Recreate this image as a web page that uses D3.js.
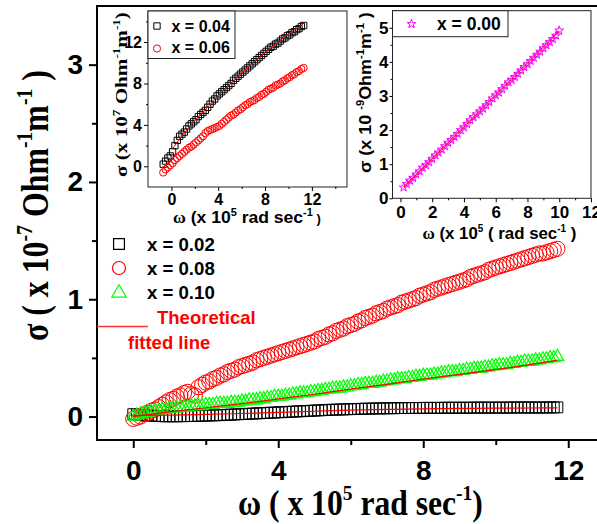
<!DOCTYPE html>
<html>
<head>
<meta charset="utf-8">
<script src="https://cdn.jsdelivr.net/npm/d3@7"></script>
<style>
  body { margin: 0; background: #fff; }
  svg { display: block; }
  text { white-space: pre; }
</style>
</head>
<body>
<svg id="chart" width="597" height="524"></svg>
<script>
// ---------------- main panel: σ(ω) for x = 0.02, 0.08, 0.10 ----------------
const mainOmega = [
  0.0, 0.1, 0.2, 0.3, 0.4, 0.5, 0.6, 0.7, 0.8, 0.9,
  1.0, 1.1, 1.2, 1.3, 1.4, 1.5, 1.6, 1.7, 1.8, 1.9,
  2.0, 2.1, 2.2, 2.3, 2.4, 2.5, 2.6, 2.7, 2.8, 2.9,
  3.0, 3.1, 3.2, 3.3, 3.4, 3.5, 3.6, 3.7, 3.8, 3.9,
  4.0, 4.1, 4.2, 4.3, 4.4, 4.5, 4.6, 4.7, 4.8, 4.9,
  5.0, 5.1, 5.2, 5.3, 5.4, 5.5, 5.6, 5.7, 5.8, 5.9,
  6.0, 6.1, 6.2, 6.3, 6.4, 6.5, 6.6, 6.7, 6.8, 6.9,
  7.0, 7.1, 7.2, 7.3, 7.4, 7.5, 7.6, 7.7, 7.8, 7.9,
  8.0, 8.1, 8.2, 8.3, 8.4, 8.5, 8.6, 8.7, 8.8, 8.9,
  9.0, 9.1, 9.2, 9.3, 9.4, 9.5, 9.6, 9.7, 9.8, 9.9,
  10.0, 10.1, 10.2, 10.3, 10.4, 10.5, 10.6, 10.7, 10.8, 10.9,
  11.0, 11.1, 11.2, 11.3, 11.4, 11.5, 11.6, 11.7
];
const sigmaX002 = [
  0.020, 0.018, 0.014, 0.012, 0.010, 0.008, 0.006, 0.004, 0.003, 0.002,
  0.002, 0.002, 0.002, 0.003, 0.003, 0.004, 0.004, 0.005, 0.006, 0.007,
  0.008, 0.009, 0.010, 0.011, 0.012, 0.014, 0.015, 0.016, 0.018, 0.019,
  0.021, 0.022, 0.024, 0.025, 0.027, 0.028, 0.030, 0.031, 0.033, 0.034,
  0.036, 0.037, 0.039, 0.040, 0.042, 0.043, 0.045, 0.046, 0.048, 0.049,
  0.051, 0.052, 0.054, 0.055, 0.057, 0.058, 0.059, 0.060, 0.061, 0.062,
  0.063, 0.064, 0.065, 0.066, 0.067, 0.067, 0.068, 0.069, 0.069, 0.070,
  0.070, 0.071, 0.071, 0.072, 0.072, 0.072, 0.073, 0.073, 0.073, 0.073,
  0.074, 0.074, 0.074, 0.074, 0.074, 0.074, 0.075, 0.075, 0.075, 0.075,
  0.075, 0.075, 0.075, 0.075, 0.076, 0.076, 0.076, 0.076, 0.076, 0.076,
  0.076, 0.076, 0.076, 0.076, 0.077, 0.077, 0.077, 0.077, 0.077, 0.077,
  0.077, 0.077, 0.077, 0.077, 0.077, 0.078, 0.078, 0.078
];
const sigmaX008 = [
  -0.02, -0.01, 0.00, 0.02, 0.03, 0.05, 0.06, 0.08, 0.10, 0.12,
  0.14, 0.15, 0.17, 0.18, 0.20, 0.21, 0.19, 0.18, 0.25, 0.27,
  0.29, 0.30, 0.32, 0.33, 0.35, 0.36, 0.38, 0.39, 0.40, 0.42,
  0.43, 0.44, 0.45, 0.46, 0.48, 0.49, 0.50, 0.51, 0.52, 0.53,
  0.54, 0.55, 0.56, 0.57, 0.58, 0.59, 0.60, 0.61, 0.62, 0.63,
  0.64, 0.66, 0.67, 0.68, 0.70, 0.71, 0.73, 0.74, 0.75, 0.77,
  0.78, 0.79, 0.81, 0.82, 0.84, 0.85, 0.86, 0.88, 0.89, 0.90,
  0.92, 0.93, 0.94, 0.95, 0.97, 0.98, 0.99, 1.00, 1.01, 1.03,
  1.04, 1.05, 1.06, 1.08, 1.09, 1.10, 1.11, 1.12, 1.13, 1.14,
  1.15, 1.16, 1.17, 1.19, 1.20, 1.21, 1.22, 1.23, 1.25, 1.26,
  1.27, 1.28, 1.29, 1.30, 1.31, 1.32, 1.33, 1.34, 1.35, 1.36,
  1.37, 1.38, 1.39, 1.39, 1.40, 1.41, 1.42, 1.43
];
const sigmaX010 = [
  0.00, 0.01, 0.02, 0.03, 0.03, 0.04, 0.05, 0.05, 0.06, 0.06,
  0.07, 0.07, 0.07, 0.08, 0.08, 0.08, 0.09, 0.09, 0.09, 0.09,
  0.10, 0.10, 0.10, 0.11, 0.11, 0.11, 0.11, 0.12, 0.12, 0.12,
  0.13, 0.13, 0.14, 0.14, 0.14, 0.15, 0.15, 0.16, 0.16, 0.17,
  0.17, 0.17, 0.18, 0.18, 0.19, 0.19, 0.20, 0.20, 0.20, 0.21,
  0.21, 0.22, 0.22, 0.23, 0.23, 0.24, 0.24, 0.24, 0.25, 0.25,
  0.26, 0.26, 0.27, 0.27, 0.28, 0.28, 0.28, 0.29, 0.29, 0.30,
  0.30, 0.31, 0.31, 0.32, 0.32, 0.32, 0.33, 0.33, 0.34, 0.34,
  0.35, 0.35, 0.35, 0.36, 0.36, 0.37, 0.37, 0.38, 0.38, 0.38,
  0.39, 0.39, 0.40, 0.40, 0.41, 0.41, 0.41, 0.42, 0.42, 0.43,
  0.43, 0.44, 0.44, 0.44, 0.45, 0.45, 0.46, 0.46, 0.47, 0.47,
  0.47, 0.48, 0.48, 0.49, 0.49, 0.50, 0.50, 0.51
];
// theoretical fitted lines (main panel)
const fitOmega = [0, 1, 2, 3, 4, 5, 6, 7, 8, 9, 10, 11, 11.7];
const fitX002 = [0.010, 0.012, 0.018, 0.026, 0.035, 0.045, 0.054, 0.061, 0.066, 0.069, 0.071, 0.073, 0.074];
const fitX010 = [0.00, 0.04, 0.075, 0.11, 0.15, 0.19, 0.235, 0.275, 0.32, 0.36, 0.40, 0.445, 0.48];

const mainXTicks = [0, 4, 8, 12];
const mainXMinor = [2, 6, 10];
const mainYTicks = [0, 1, 2, 3];
const mainYMinor = [0.5, 1.5, 2.5];

// ---------------- inset A: x = 0.04, 0.06 (σ in 10^7 units) ----------------
const insetAOmega = [
  -0.7, -0.5, -0.3, -0.1, 0.1, 0.3, 0.5, 0.7, 0.9, 1.1,
  1.3, 1.5, 1.7, 1.9, 2.1, 2.3, 2.5, 2.7, 2.9, 3.1,
  3.3, 3.5, 3.7, 3.9, 4.1, 4.3, 4.5, 4.7, 4.9, 5.1,
  5.3, 5.5, 5.7, 5.9, 6.1, 6.3, 6.5, 6.7, 6.9, 7.1,
  7.3, 7.5, 7.7, 7.9, 8.1, 8.3, 8.5, 8.7, 8.9, 9.1,
  9.3, 9.5, 9.7, 9.9, 10.1, 10.3, 10.5, 10.7, 10.9, 11.1,
  11.3
];
const sigmaX004 = [
  0.2, 0.5, 0.8, 1.0, 1.4, 2.0, 2.5, 2.9, 3.1, 3.3,
  3.6, 3.9, 4.1, 4.3, 4.5, 4.8, 5.0, 5.2, 5.4, 5.7,
  6.0, 6.3, 6.5, 6.8, 7.0, 7.2, 7.4, 7.6, 7.8, 8.0,
  8.3, 8.5, 8.7, 8.9, 9.1, 9.3, 9.5, 9.7, 9.9, 10.1,
  10.3, 10.5, 10.7, 10.9, 11.1, 11.3, 11.5, 11.6, 11.8, 11.9,
  12.1, 12.3, 12.4, 12.6, 12.7, 12.9, 13.0, 13.2, 13.3, 13.5,
  13.6
];
const sigmaX006 = [
  -0.6, -0.3, -0.1, 0.1, 0.3, 0.6, 0.8, 1.0, 1.2, 1.4,
  1.6, 1.8, 1.9, 2.1, 2.3, 2.5, 2.7, 2.9, 3.2, 3.4,
  3.5, 3.6, 3.7, 3.8, 3.9, 4.1, 4.3, 4.5, 4.7, 4.9,
  5.0, 5.2, 5.4, 5.5, 5.7, 5.9, 6.0, 6.2, 6.3, 6.4,
  6.6, 6.7, 6.9, 7.0, 7.2, 7.4, 7.5, 7.6, 7.8, 7.9,
  8.0, 8.2, 8.3, 8.5, 8.6, 8.8, 8.9, 9.1, 9.2, 9.4,
  9.5
];
const fitAOmega = [0.1, 1, 2, 3, 4, 5, 6, 7, 8, 9, 10, 11.3];
const fitX004 = [1.7, 3.1, 4.4, 5.6, 6.8, 7.9, 9.0, 10.0, 11.0, 11.9, 12.8, 13.8];
const insetATicks = [0, 4, 8, 12];
const insetAMinor = [2, 6, 10, 14];

// ---------------- inset B: x = 0.00 (σ in 10^-9 units) ----------------
const insetBOmega = [
  0.2, 0.4, 0.6, 0.8, 1.0, 1.2, 1.4, 1.6, 1.8, 2.0,
  2.2, 2.4, 2.6, 2.8, 3.0, 3.2, 3.4, 3.6, 3.8, 4.0,
  4.2, 4.4, 4.6, 4.8, 5.0, 5.2, 5.4, 5.6, 5.8, 6.0,
  6.2, 6.4, 6.6, 6.8, 7.0, 7.2, 7.4, 7.6, 7.8, 8.0,
  8.2, 8.4, 8.6, 8.8, 9.0, 9.2, 9.4, 9.6, 9.8, 10.0
];
const sigmaX000 = [
  0.32, 0.42, 0.52, 0.60, 0.70, 0.79, 0.90, 0.97, 1.06, 1.16,
  1.26, 1.34, 1.43, 1.53, 1.63, 1.71, 1.80, 1.89, 2.00, 2.08,
  2.18, 2.29, 2.38, 2.46, 2.55, 2.63, 2.73, 2.82, 2.93, 3.02,
  3.10, 3.20, 3.30, 3.40, 3.47, 3.56, 3.65, 3.75, 3.85, 3.93,
  4.03, 4.12, 4.21, 4.30, 4.40, 4.49, 4.58, 4.67, 4.77, 4.92
];
const fitBOmega = [0.2, 10.0];
const fitX000 = [0.33, 4.90];
const insetBXTicks = [0, 2, 4, 6, 8, 10, 12];
const insetBXMinor = [1, 3, 5, 7, 9, 11];
const insetBYTicks = [0, 1, 2, 3, 4, 5];
const insetBYMinor = [0.5, 1.5, 2.5, 3.5, 4.5];

// ---------------- drawing ----------------
const SANS = "'Liberation Sans', Arial, Helvetica, sans-serif";
const SERIF = "'Liberation Serif', 'Times New Roman', Times, serif";
const RED = "#ff0000", GREEN = "#00ff00", MAGENTA = "#ff00ff";

const svg = d3.select("#chart");
svg.append("rect").attr("width", 597).attr("height", 524).attr("fill", "#fff");

const zip = (xs, ys) => xs.map((v, i) => [v, ys[i]]);

// bold text with superscript runs; parts = [[string, isSuperscript], ...]
function richText(g, parts, size, family) {
  const t = g.append("text")
    .attr("font-family", family).attr("font-weight", "bold")
    .attr("font-size", size).attr("fill", "#000");
  let up = false;
  const shift = size * 0.42;
  parts.forEach(([s, sup]) => {
    const ts = t.append("tspan").text(s);
    if (sup) {
      ts.attr("font-size", size * 0.62);
      if (!up) ts.attr("dy", -shift);
      up = true;
    } else {
      if (up) ts.attr("dy", shift);
      up = false;
    }
  });
  return t;
}
// place a horizontal title so it spans [x0, x0 + width] on the given baseline
function fitH(t, x0, baseline, width) {
  const w = t.node().getBBox().width;
  t.attr("transform", `translate(${x0},${baseline}) scale(${width / w},1)`);
}
// place a vertical title reading bottom-to-top, spanning [yBottom - length, yBottom]
function fitV(t, baseX, yBottom, length) {
  const w = t.node().getBBox().width;
  t.attr("transform", `translate(${baseX},${yBottom}) rotate(-90) scale(${length / w},1)`);
}

function styleAxis(g, size, width) {
  g.select(".domain").remove();
  g.selectAll("line").attr("stroke", "#000").attr("stroke-width", width);
  g.selectAll("text").attr("font-family", SANS).attr("font-weight", "bold")
    .attr("font-size", size).attr("fill", "#000");
}

// ---- main panel ----
const x = d3.scaleLinear().domain([-1, 13]).range([97, 604.5]);
const y = d3.scaleLinear().domain([-0.2, 3.5]).range([440, 6]);

const main = svg.append("g");

const gxMinor = main.append("g").attr("transform", "translate(0,440)")
  .call(d3.axisBottom(x).tickValues(mainXMinor).tickSize(5).tickFormat(""));
styleAxis(gxMinor, 28, 2);
const gx = main.append("g").attr("transform", "translate(0,440)")
  .call(d3.axisBottom(x).tickValues(mainXTicks).tickSize(8).tickPadding(12).tickFormat(d3.format("d")));
styleAxis(gx, 28, 2);
const gyMinor = main.append("g").attr("transform", "translate(97,0)")
  .call(d3.axisLeft(y).tickValues(mainYMinor).tickSize(5).tickFormat(""));
styleAxis(gyMinor, 28, 2);
const gy = main.append("g").attr("transform", "translate(97,0)")
  .call(d3.axisLeft(y).tickValues(mainYTicks).tickSize(8).tickPadding(6).tickFormat(d3.format("d")));
styleAxis(gy, 28, 2);

main.append("rect").attr("x", 97).attr("y", 6).attr("width", 507.5).attr("height", 434)
  .attr("fill", "none").attr("stroke", "#000").attr("stroke-width", 2);

const symSquare = d3.symbol(d3.symbolSquare, 118);
const symTri = d3.symbol(d3.symbolTriangle, 70);

const plot = main.append("g");
plot.selectAll("path.sq").data(zip(mainOmega, sigmaX002)).join("path")
  .attr("class", "sq").attr("d", symSquare)
  .attr("transform", d => `translate(${x(d[0])},${y(d[1])})`)
  .attr("fill", "none").attr("stroke", "#000").attr("stroke-width", 1);
plot.selectAll("circle.ci").data(zip(mainOmega, sigmaX008)).join("circle")
  .attr("class", "ci").attr("cx", d => x(d[0])).attr("cy", d => y(d[1])).attr("r", 7.6)
  .attr("fill", "none").attr("stroke", RED).attr("stroke-width", 1);
plot.selectAll("path.tr").data(zip(mainOmega, sigmaX010)).join("path")
  .attr("class", "tr").attr("d", symTri)
  .attr("transform", d => `translate(${x(d[0])},${y(d[1])})`)
  .attr("fill", "none").attr("stroke", GREEN).attr("stroke-width", 1.2);

const mainLine = d3.line().x(d => x(d[0])).y(d => y(d[1])).curve(d3.curveMonotoneX);
[fitX002, fitX010].forEach(s => {
  plot.append("path").attr("d", mainLine(zip(fitOmega, s)))
    .attr("fill", "none").attr("stroke", RED).attr("stroke-width", 1.2);
});

// main legend
const leg = main.append("g");
const legRows = [
  { label: "x = 0.02", kind: "sq", cy: 244 },
  { label: "x = 0.08", kind: "ci", cy: 268 },
  { label: "x = 0.10", kind: "tr", cy: 292 }
];
legRows.forEach(r => {
  if (r.kind === "sq") leg.append("path").attr("d", symSquare)
    .attr("transform", `translate(119,${r.cy})`).attr("fill", "none").attr("stroke", "#000").attr("stroke-width", 1.2);
  if (r.kind === "ci") leg.append("circle").attr("cx", 119).attr("cy", r.cy).attr("r", 6.5)
    .attr("fill", "none").attr("stroke", RED).attr("stroke-width", 1.2);
  if (r.kind === "tr") leg.append("path").attr("d", d3.symbol(d3.symbolTriangle, 90))
    .attr("transform", `translate(119,${r.cy + 1})`).attr("fill", "none").attr("stroke", GREEN).attr("stroke-width", 1.2);
  leg.append("text").attr("x", 147).attr("y", r.cy).attr("dy", "0.35em")
    .attr("font-family", SANS).attr("font-weight", "bold").attr("font-size", 18.6)
    .text(r.label);
});
leg.append("line").attr("x1", 97).attr("x2", 148).attr("y1", 326.5).attr("y2", 326.5)
  .attr("stroke", "#ff3333").attr("stroke-width", 1.5);
leg.append("text").attr("x", 157).attr("y", 318).attr("dy", "0.35em")
  .attr("font-family", SANS).attr("font-weight", "bold").attr("font-size", 18.5)
  .attr("fill", RED).text("Theoretical");
leg.append("text").attr("x", 128).attr("y", 343).attr("dy", "0.35em")
  .attr("font-family", SANS).attr("font-weight", "bold").attr("font-size", 18.5)
  .attr("fill", RED).text("fitted line");

// main titles
const xTitle = richText(svg, [["ω ( x 10", false], ["5", true], [" rad sec", false], ["-1", true], [")", false]], 35, SERIF);
fitH(xTitle, 238, 515, 245);
const yTitle = richText(svg, [["σ ( x 10", false], ["-7", true], [" Ohm", false], ["-1", true], ["m", false], ["-1", true], [" )", false]], 37, SERIF);
fitV(yTitle, 48, 341, 271);

// ---- inset A ----
const xa = d3.scaleLinear().domain([-2, 15]).range([148, 347]);
const ya = d3.scaleLinear().domain([-2, 15]).range([187, 11]);
const ia = svg.append("g");
ia.append("rect").attr("x", 148).attr("y", 11).attr("width", 199).attr("height", 176)
  .attr("fill", "#fff").attr("stroke", "#222").attr("stroke-width", 1);
const axm = ia.append("g").attr("transform", "translate(0,187)")
  .call(d3.axisBottom(xa).tickValues(insetAMinor).tickSize(2).tickFormat(""));
styleAxis(axm, 16, 1);
const axa = ia.append("g").attr("transform", "translate(0,187)")
  .call(d3.axisBottom(xa).tickValues(insetATicks).tickSize(4).tickPadding(3).tickFormat(d3.format("d")));
styleAxis(axa, 16, 1);
const aym = ia.append("g").attr("transform", "translate(148,0)")
  .call(d3.axisLeft(ya).tickValues(insetAMinor).tickSize(2).tickFormat(""));
styleAxis(aym, 16, 1);
const aya = ia.append("g").attr("transform", "translate(148,0)")
  .call(d3.axisLeft(ya).tickValues(insetATicks).tickSize(4).tickPadding(2).tickFormat(d3.format("d")));
styleAxis(aya, 16, 1);

const symSqA = d3.symbol(d3.symbolSquare, 40);
ia.selectAll("path.sqa").data(zip(insetAOmega, sigmaX004)).join("path")
  .attr("class", "sqa").attr("d", symSqA)
  .attr("transform", d => `translate(${xa(d[0])},${ya(d[1])})`)
  .attr("fill", "none").attr("stroke", "#000").attr("stroke-width", 1);
ia.selectAll("circle.cia").data(zip(insetAOmega, sigmaX006)).join("circle")
  .attr("class", "cia").attr("cx", d => xa(d[0])).attr("cy", d => ya(d[1])).attr("r", 3.6)
  .attr("fill", "none").attr("stroke", RED).attr("stroke-width", 1);
const lineA = d3.line().x(d => xa(d[0])).y(d => ya(d[1])).curve(d3.curveMonotoneX);
ia.append("path").attr("d", lineA(zip(fitAOmega, fitX004)))
  .attr("fill", "none").attr("stroke", RED).attr("stroke-width", 1);

ia.append("rect").attr("x", 148).attr("y", 11).attr("width", 87).attr("height", 47.5)
  .attr("fill", "#fff").attr("stroke", "#222").attr("stroke-width", 1);
ia.append("path").attr("d", symSqA).attr("transform", "translate(157,26)")
  .attr("fill", "none").attr("stroke", "#000").attr("stroke-width", 1);
ia.append("circle").attr("cx", 157).attr("cy", 48.5).attr("r", 3.6)
  .attr("fill", "none").attr("stroke", RED).attr("stroke-width", 1);
[["x = 0.04", 26], ["x = 0.06", 47.5]].forEach(([s, cy]) => {
  ia.append("text").attr("x", 171.5).attr("y", cy).attr("dy", "0.35em")
    .attr("font-family", SANS).attr("font-weight", "bold").attr("font-size", 16).text(s);
});
const axTitleA = richText(ia, [["ω", false]], 18, SERIF);
axTitleA.append("tspan").attr("font-family", SANS).text(" (x 10");
axTitleA.append("tspan").attr("font-family", SANS).attr("font-size", 10).attr("dy", -7).text("5");
axTitleA.append("tspan").attr("font-family", SANS).attr("dy", 7).text(" rad sec");
axTitleA.append("tspan").attr("font-family", SANS).attr("font-size", 10).attr("dy", -7).text("-1");
axTitleA.append("tspan").attr("font-family", SANS).attr("font-size", 12).attr("dy", 7).text(" )");
axTitleA.attr("font-size", 16);
fitH(axTitleA, 173, 223, 148);
const ayTitleA = richText(ia, [["σ (x 10", false], ["7", true], [" Ohm", false], ["-1", true], ["m", false], ["-1", true], [")", false]], 17, SERIF);
fitV(ayTitleA, 127, 177, 165);

// ---- inset B ----
const xb = d3.scaleLinear().domain([-0.5, 12]).range([392.5, 591]);
const yb = d3.scaleLinear().domain([0, 5.5]).range([198.3, 10.7]);
const ib = svg.append("g");
ib.append("rect").attr("x", 392.5).attr("y", 10.7).attr("width", 198.5).attr("height", 187.6)
  .attr("fill", "#fff").attr("stroke", "#222").attr("stroke-width", 1);
const bxm = ib.append("g").attr("transform", "translate(0,198.3)")
  .call(d3.axisBottom(xb).tickValues(insetBXMinor).tickSize(2).tickFormat(""));
styleAxis(bxm, 16, 1);
const bxa = ib.append("g").attr("transform", "translate(0,198.3)")
  .call(d3.axisBottom(xb).tickValues(insetBXTicks).tickSize(4).tickPadding(4).tickFormat(d3.format("d")));
styleAxis(bxa, 17, 1);
const bym = ib.append("g").attr("transform", "translate(392.5,0)")
  .call(d3.axisLeft(yb).tickValues(insetBYMinor).tickSize(2).tickFormat(""));
styleAxis(bym, 16, 1);
const bya = ib.append("g").attr("transform", "translate(392.5,0)")
  .call(d3.axisLeft(yb).tickValues(insetBYTicks).tickSize(3).tickPadding(1).tickFormat(d3.format("d")));
styleAxis(bya, 17, 1);

const symStar = d3.symbol(d3.symbolStar, 24);
ib.selectAll("path.st").data(zip(insetBOmega, sigmaX000)).join("path")
  .attr("class", "st").attr("d", symStar)
  .attr("transform", d => `translate(${xb(d[0])},${yb(d[1])})`)
  .attr("fill", "none").attr("stroke", MAGENTA).attr("stroke-width", 1);
const lineB = d3.line().x(d => xb(d[0])).y(d => yb(d[1]));
ib.append("path").attr("d", lineB(zip(fitBOmega, fitX000)))
  .attr("fill", "none").attr("stroke", "#ff1060").attr("stroke-width", 1.2);

ib.append("rect").attr("x", 392.5).attr("y", 10.7).attr("width", 115.5).attr("height", 26)
  .attr("fill", "#fff").attr("stroke", "#222").attr("stroke-width", 1);
ib.append("path").attr("d", symStar).attr("transform", "translate(411.5,24)")
  .attr("fill", "none").attr("stroke", MAGENTA).attr("stroke-width", 1);
ib.append("text").attr("x", 437).attr("y", 24).attr("dy", "0.35em")
  .attr("font-family", SANS).attr("font-weight", "bold").attr("font-size", 17.5).text("x = 0.00");

const axTitleB = richText(ib, [["ω", false]], 18, SERIF);
axTitleB.append("tspan").attr("font-family", SANS).text(" (x 10");
axTitleB.append("tspan").attr("font-family", SANS).attr("font-size", 10).attr("dy", -7).text("5");
axTitleB.append("tspan").attr("font-family", SANS).attr("dy", 7).text(" ( rad sec");
axTitleB.append("tspan").attr("font-family", SANS).attr("font-size", 10).attr("dy", -7).text("-1");
axTitleB.append("tspan").attr("font-family", SANS).attr("dy", 7).text(" )");
axTitleB.attr("font-size", 17);
fitH(axTitleB, 422.5, 239, 154);
const ayTitleB = richText(ib, [["σ (x 10 ", false], ["-9", true], ["Ohm", false], ["-1", true], ["m", false], ["-1", true], [" )", false]], 17, SANS);
fitV(ayTitleB, 371, 173, 161);
</script>
</body>
</html>
